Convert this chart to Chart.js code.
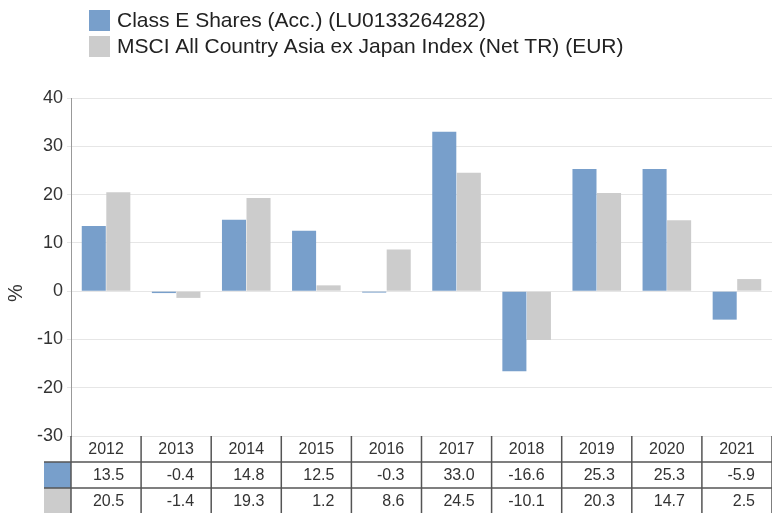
<!DOCTYPE html>
<html>
<head>
<meta charset="utf-8">
<script src="https://cdn.jsdelivr.net/npm/chart.js@4"></script>
<style>
  html, body { margin: 0; padding: 0; background: #fff; }
  #wrap { width: 772px; height: 513px; }
</style>
</head>
<body>
<div id="wrap"><canvas id="chart" width="772" height="513"></canvas></div>
<script>
// Data
const categories = ['2012', '2013', '2014', '2015', '2016', '2017', '2018', '2019', '2020', '2021'];
const classE = [13.5, -0.4, 14.8, 12.5, -0.3, 33.0, -16.6, 25.3, 25.3, -5.9];
const msci = [20.5, -1.4, 19.3, 1.2, 8.6, 24.5, -10.1, 20.3, 14.7, 2.5];
const seriesNames = ['Class E Shares (Acc.) (LU0133264282)', 'MSCI All Country Asia ex Japan Index (Net TR) (EUR)'];
const yTitle = '%';
const yMin = -30, yMax = 40, yStep = 10;

const BLUE = '#789fcb';
const GREY = '#cccccc';
const FONT = '"Liberation Sans", Arial, sans-serif';

// Legend drawn at top left, stacked; plus the "%" axis title
const legendPlugin = {
  id: 'stackedLegend',
  afterDraw(chart) {
    const ctx = chart.ctx;
    ctx.save();
    chart.data.datasets.forEach((ds, i) => {
      const y = 10 + i * 26;
      ctx.fillStyle = ds.backgroundColor;
      ctx.fillRect(89, y, 21, 21);
      ctx.fillStyle = '#222';
      ctx.font = '21px ' + FONT;
      ctx.textBaseline = 'middle';
      ctx.textAlign = 'left';
      ctx.fillText(ds.label, 117, y + 11);
    });
    // y title, sits level with the zero line
    ctx.translate(16, chart.scales.y.getPixelForValue(0) + 2);
    ctx.rotate(-Math.PI / 2);
    ctx.font = '20px ' + FONT;
    ctx.fillStyle = '#333';
    ctx.textAlign = 'center';
    ctx.textBaseline = 'middle';
    ctx.fillText(yTitle, 0, 0);
    ctx.restore();
  }
};

// Data table under the plot
const tablePlugin = {
  id: 'dataTable',
  afterDraw(chart) {
    const ctx = chart.ctx;
    const x = chart.scales.x;
    const area = chart.chartArea;
    const colW = (area.right - area.left) / categories.length;
    const rowH = 26;
    const top = area.bottom;
    const swatchL = 44;
    ctx.save();
    // swatches
    chart.data.datasets.forEach((ds, r) => {
      ctx.fillStyle = ds.backgroundColor;
      ctx.fillRect(swatchL, top + rowH * (r + 1), area.left - swatchL, rowH);
    });
    ctx.strokeStyle = '#555';
    ctx.lineWidth = 1.5;
    ctx.beginPath();
    // horizontal lines
    for (let r = 1; r <= 2; r++) {
      const y = top + rowH * r;
      ctx.moveTo(swatchL, y);
      ctx.lineTo(area.right, y);
    }
    // vertical lines
    for (let c = 0; c <= categories.length; c++) {
      const xx = area.left + colW * c;
      ctx.moveTo(xx, top);
      ctx.lineTo(xx, chart.height);
    }
    ctx.stroke();
    // text
    ctx.font = '16px ' + FONT;
    ctx.fillStyle = '#333';
    ctx.textBaseline = 'middle';
    categories.forEach((cat, i) => {
      const cx = x.getPixelForValue(i);
      ctx.textAlign = 'center';
      ctx.fillText(cat, cx, top + rowH / 2 + 1);
      ctx.textAlign = 'right';
      chart.data.datasets.forEach((ds, r) => {
        ctx.fillText(ds.data[i].toFixed(1), cx + colW / 2 - 17, top + rowH * (r + 1) + rowH / 2 + 1);
      });
    });
    ctx.restore();
  }
};

new Chart(document.getElementById('chart'), {
  type: 'bar',
  data: {
    labels: categories,
    datasets: [
      { label: seriesNames[0], data: classE, backgroundColor: BLUE },
      { label: seriesNames[1], data: msci, backgroundColor: GREY }
    ]
  },
  options: {
    responsive: false,
    animation: false,
    layout: { padding: { top: 98, bottom: 77, left: 0, right: 0 } },
    datasets: { bar: { categoryPercentage: 0.7, barPercentage: 0.98 } },
    plugins: {
      legend: { display: false },
      tooltip: { enabled: false }
    },
    scales: {
      x: { display: false },
      y: {
        min: yMin,
        max: yMax,
        afterFit(scale) { scale.width = 71; },
        ticks: { stepSize: yStep, color: '#333', font: { family: FONT, size: 18 }, padding: 4 },
        grid: { color: '#e6e6e6', tickLength: 4, tickColor: '#e6e6e6' },
        border: { color: '#999' }
      }
    }
  },
  plugins: [legendPlugin, tablePlugin]
});
</script>
</body>
</html>
